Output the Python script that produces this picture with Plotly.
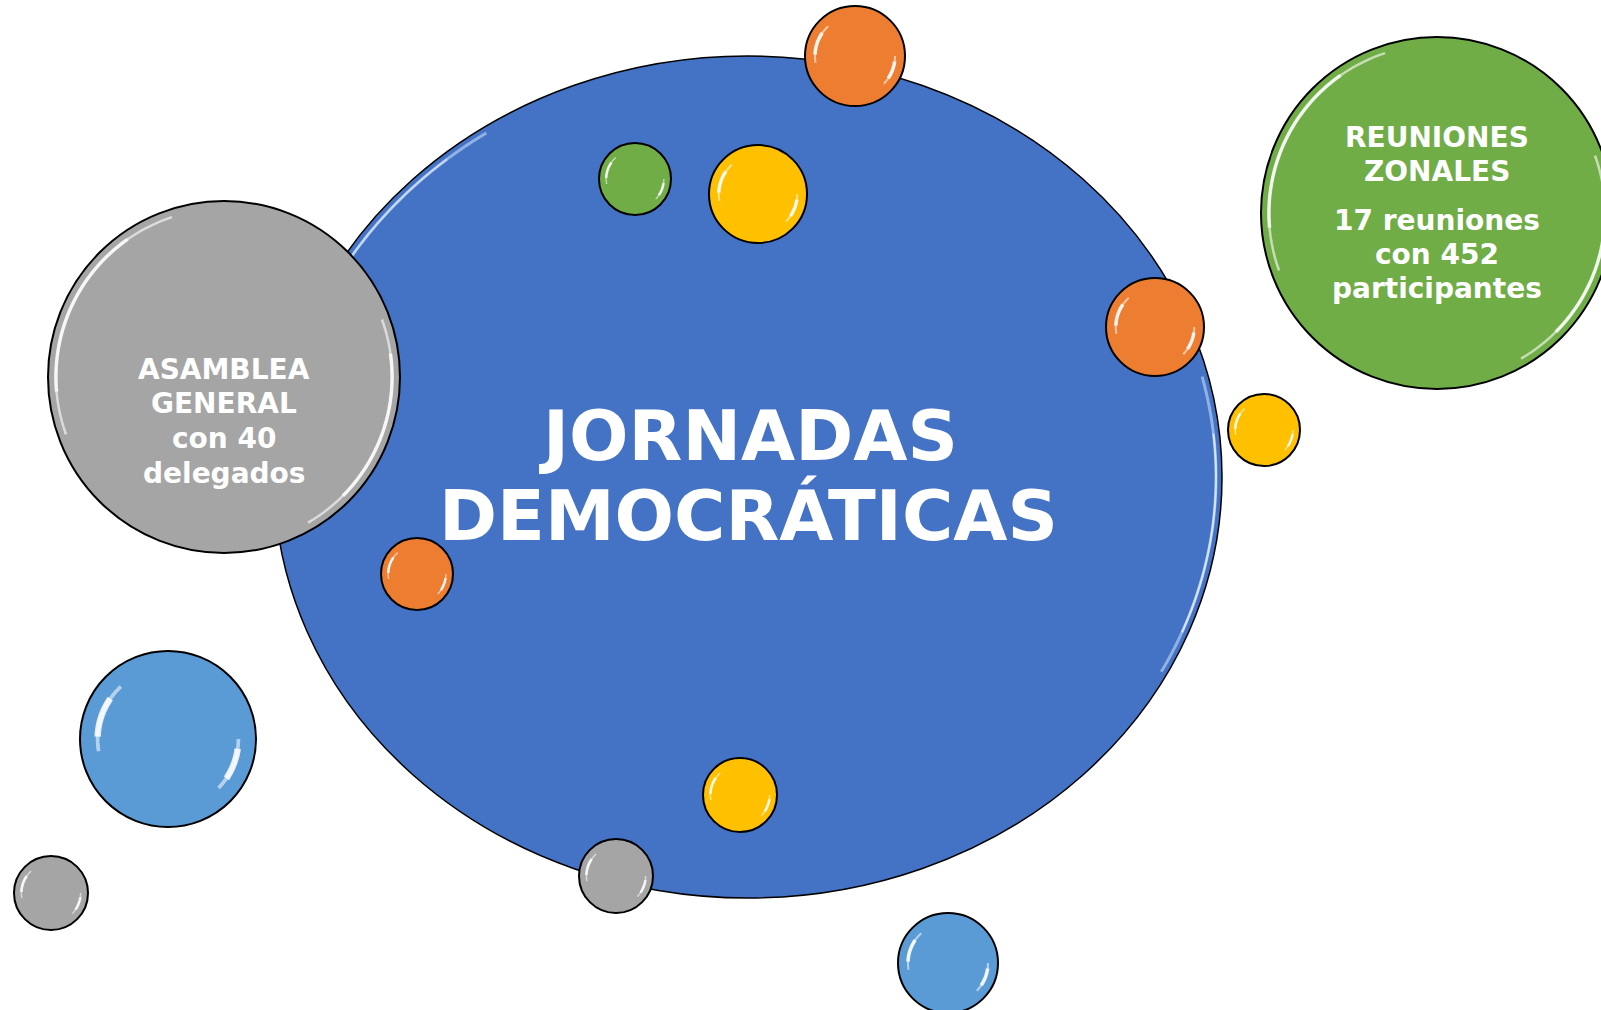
import numpy as np
import plotly.graph_objects as go

W, H = 1601, 1010

# Main ellipse
main_center = (748, 477)
main_radii = (474, 421)
main_color = "#4472C4"

# Bubbles (drawn in order)
bubble_names = ["asamblea", "zonales", "orange_top", "green_small", "yellow_top",
                "orange_right", "yellow_right", "orange_left", "blue_big",
                "gray_small", "yellow_bottom", "gray_bottom", "blue_bottom"]
bubble_x = [224, 1437, 855, 635, 758, 1155, 1264, 417, 168, 51, 740, 616, 948]
bubble_y = [377, 213, 56, 179, 194, 327, 430, 574, 739, 893, 795, 876, 963]
bubble_r = [176, 176, 50, 36, 49, 49, 36, 36, 88, 37, 37, 37, 50]
bubble_colors = ["#A5A5A5", "#70AD47", "#ED7D31", "#70AD47", "#FFC000",
                 "#ED7D31", "#FFC000", "#ED7D31", "#5B9BD5",
                 "#A5A5A5", "#FFC000", "#A5A5A5", "#5B9BD5"]

title_lines = ["JORNADAS", "DEMOCRÁTICAS"]
title_y = [436, 516]

asamblea_lines = ["ASAMBLEA", "GENERAL", "con 40", "delegados"]
asamblea_y = [369, 403, 438, 473]

zonales_lines = ["REUNIONES", "ZONALES", "17 reuniones", "con 452", "participantes"]
zonales_y = [137, 171, 220, 254, 288]

FONT = "DejaVu Sans"

fig = go.Figure()


def arc_path(cx, cy, rx, ry, a0, a1, n=40):
    t = np.radians(np.linspace(a0, a1, n))
    xs = cx + rx * np.cos(t)
    ys = cy - ry * np.sin(t)
    return "M " + " L ".join(f"{x:.2f},{y:.2f}" for x, y in zip(xs, ys))


def arc(cx, cy, rx, ry, a0, a1, color, width, opacity):
    return dict(type="path", xref="x", yref="y", path=arc_path(cx, cy, rx, ry, a0, a1),
                line=dict(color=color, width=width), opacity=opacity, layer="above")


shapes = []
# main ellipse
cx, cy = main_center
rx, ry = main_radii
shapes.append(dict(type="circle", xref="x", yref="y", x0=cx - rx, x1=cx + rx,
                   y0=cy - ry, y1=cy + ry, fillcolor=main_color,
                   line=dict(color="black", width=1.5), layer="above"))
# inner rim highlights on main ellipse
shapes.append(arc(cx, cy, rx - 6, ry - 6, 124, 150, "#A9C6EE", 3, 0.75))
shapes.append(arc(cx, cy, rx - 6, ry - 6, 130, 148, "#D4E4F8", 2, 0.8))
shapes.append(arc(cx, cy, rx - 6, ry - 6, -28, 14, "#A9C6EE", 3, 0.75))
shapes.append(arc(cx, cy, rx - 6, ry - 6, -22, 6, "#E3EEFB", 2, 0.85))

for bx, by, br, col in zip(bubble_x, bubble_y, bubble_r, bubble_colors):
    shapes.append(dict(type="circle", xref="x", yref="y", x0=bx - br, x1=bx + br,
                       y0=by - br, y1=by + br, fillcolor=col,
                       line=dict(color="black", width=2), layer="above"))
    if br > 100:
        rr = br * 0.955
        shapes.append(arc(bx, by, rr, rr, 108, 200, "white", 2.5, 0.6))
        shapes.append(arc(bx, by, rr, rr, 125, 185, "white", 3.5, 0.8))
        shapes.append(arc(bx, by, rr, rr, -60, 20, "white", 2.5, 0.6))
        shapes.append(arc(bx, by, rr, rr, -45, 8, "white", 3.5, 0.8))
    else:
        rr = br * 0.8
        lw = max(2.0, br * 0.06)
        shapes.append(arc(bx, by, rr, rr, 132, 190, "white", lw * 0.7, 0.55))
        shapes.append(arc(bx, by, rr, rr, 145, 178, "white", lw * 1.2, 0.85))
        shapes.append(arc(bx, by, rr, rr, -44, 0, "white", lw * 0.7, 0.55))
        shapes.append(arc(bx, by, rr, rr, -34, -8, "white", lw * 1.2, 0.85))

annotations = []
for txt, yy in zip(title_lines, title_y):
    annotations.append(dict(x=cx, y=yy, xref="x", yref="y", text=f"<b>{txt}</b>",
                            showarrow=False, xanchor="center", yanchor="middle",
                            font=dict(family=FONT, size=70, color="white")))
for txt, yy in zip(asamblea_lines, asamblea_y):
    annotations.append(dict(x=bubble_x[0], y=yy, xref="x", yref="y", text=f"<b>{txt}</b>",
                            showarrow=False, xanchor="center", yanchor="middle",
                            font=dict(family=FONT, size=28, color="white")))
for txt, yy in zip(zonales_lines, zonales_y):
    annotations.append(dict(x=bubble_x[1], y=yy, xref="x", yref="y", text=f"<b>{txt}</b>",
                            showarrow=False, xanchor="center", yanchor="middle",
                            font=dict(family=FONT, size=28, color="white")))

fig.update_layout(
    width=W, height=H, margin=dict(l=0, r=0, t=0, b=0),
    paper_bgcolor="white", plot_bgcolor="white",
    xaxis=dict(range=[0, W], visible=False, fixedrange=True),
    yaxis=dict(range=[H, 0], visible=False, fixedrange=True),
    shapes=shapes, annotations=annotations, showlegend=False,
)

fig.write_html("out.html", config={"displayModeBar": False},
               post_script="document.body.style.margin='0';document.body.style.overflow='hidden';")
